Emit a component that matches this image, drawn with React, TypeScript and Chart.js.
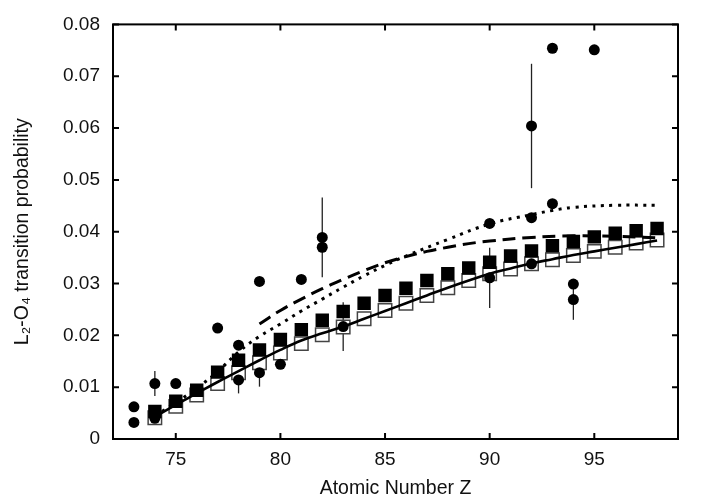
import React, { useEffect, useRef } from "react";
import { Chart, registerables } from "chart.js";

Chart.register(...registerables);

// ---------- data ----------
const xTickLabels = ["75", "80", "85", "90", "95"];
const yTickLabels = ["0", "0.01", "0.02", "0.03", "0.04", "0.05", "0.06", "0.07", "0.08"];

// experimental points (filled circles) with error bars
const expZ = [73, 73, 74, 74, 75, 77, 78, 78, 79, 79, 80, 81, 82, 82, 83, 90, 90, 92, 92, 92, 93, 93, 94, 94, 95];
const expP = [0.0062, 0.0032, 0.0107, 0.004, 0.0107, 0.0214, 0.0181, 0.0114, 0.0304, 0.0128, 0.0144, 0.0308, 0.0389, 0.037, 0.0217, 0.0416, 0.0311, 0.0604, 0.0427, 0.0338, 0.0754, 0.0454, 0.0299, 0.0269, 0.0751];
const expErr = [0, 0, 0.0024, 0, 0, 0, 0, 0.0026, 0, 0.0027, 0, 0, 0.0077, 0, 0.0047, 0, 0.0058, 0.012, 0, 0, 0, 0, 0, 0.0039, 0];

// theoretical (filled squares / open squares)
const theoryZ = [74, 75, 76, 77, 78, 79, 80, 81, 82, 83, 84, 85, 86, 87, 88, 89, 90, 91, 92, 93, 94, 95, 96, 97, 98];
const filledSq = [0.0053, 0.0073, 0.0094, 0.0129, 0.0152, 0.0172, 0.0192, 0.0211, 0.0229, 0.0246, 0.0262, 0.0277, 0.0291, 0.0306, 0.0319, 0.033, 0.0341, 0.0353, 0.0363, 0.0373, 0.0381, 0.039, 0.0397, 0.0402, 0.0406];
const openSq = [0.0041, 0.0063, 0.0085, 0.0107, 0.0128, 0.0147, 0.0166, 0.0184, 0.0201, 0.0216, 0.0232, 0.0248, 0.0262, 0.0277, 0.0292, 0.0306, 0.0319, 0.0328, 0.0338, 0.0346, 0.0354, 0.0362, 0.037, 0.0378, 0.0384];

// solid fitted curve
const solidZ = [74, 75, 76, 77, 78, 79, 80, 81, 82, 83, 84, 85, 86, 87, 88, 89, 90, 91, 92, 93, 94, 95, 96, 97, 98];
const solidP = [0.0043, 0.0066, 0.0088, 0.011, 0.0131, 0.0152, 0.0172, 0.019, 0.0204, 0.0217, 0.0232, 0.0247, 0.0262, 0.0277, 0.0292, 0.0306, 0.0319, 0.0329, 0.0339, 0.0347, 0.0355, 0.0362, 0.0369, 0.0376, 0.0383];

// dashed curve
const dashZ = [79, 80, 81, 82, 83, 84, 85, 86, 87, 88, 89, 90, 92, 94, 96, 98];
const dashP = [0.0222, 0.0248, 0.027, 0.029, 0.0308, 0.0325, 0.034, 0.0352, 0.0362, 0.037, 0.0377, 0.0382, 0.0389, 0.0392, 0.0391, 0.0388];

// dotted curve
const dotZ = [74, 75, 76, 77, 78, 79, 80, 81, 82, 83, 84, 85, 86, 88, 90, 92, 93, 94, 96, 98];
const dotP = [0.0045, 0.007, 0.0098, 0.013, 0.0168, 0.0198, 0.0222, 0.0247, 0.027, 0.0293, 0.0315, 0.0335, 0.0353, 0.0385, 0.0415, 0.0433, 0.0441, 0.0447, 0.0451, 0.0451];

const pts = (xs: number[], ys: number[]) => xs.map((x, i) => ({ x, y: ys[i] }));

const FONT = "'Liberation Sans', Arial, Helvetica, sans-serif";

const framePlugin = {
  id: "frameTicks",
  beforeDatasetsDraw(chart: any) {
    const { ctx, scales } = chart;
    const x = scales.x;
    const y = scales.y;
    ctx.save();
    ctx.strokeStyle = "#222";
    ctx.lineWidth = 1.3;
    expZ.forEach((z, i) => {
      const e = expErr[i];
      if (!e) return;
      const px = x.getPixelForValue(z);
      ctx.beginPath();
      ctx.moveTo(px, y.getPixelForValue(expP[i] - e));
      ctx.lineTo(px, y.getPixelForValue(expP[i] + e));
      ctx.stroke();
    });
    ctx.restore();
  },
  afterDraw(chart: any) {
    const { ctx, chartArea, scales } = chart;
    const { left, right, top, bottom } = chartArea;
    const x = scales.x;
    const y = scales.y;
    ctx.save();
    ctx.strokeStyle = "#000";
    ctx.lineWidth = 2;
    ctx.strokeRect(left, top, right - left, bottom - top);
    ctx.lineWidth = 2;
    const len = 6;
    x.ticks.forEach((t: any) => {
      const px = x.getPixelForValue(t.value);
      ctx.beginPath();
      ctx.moveTo(px, bottom);
      ctx.lineTo(px, bottom - len);
      ctx.moveTo(px, top);
      ctx.lineTo(px, top + len);
      ctx.stroke();
    });
    y.ticks.forEach((t: any) => {
      const py = y.getPixelForValue(t.value);
      ctx.beginPath();
      ctx.moveTo(left, py);
      ctx.lineTo(left + len, py);
      ctx.moveTo(right, py);
      ctx.lineTo(right - len, py);
      ctx.stroke();
    });
    ctx.restore();
  },
};

export default function App() {
  const ref = useRef<HTMLCanvasElement | null>(null);
  useEffect(() => {
    document.body.style.margin = "0";
    if (!ref.current) return;
    const chart = new Chart(ref.current, {
      type: "scatter",
      data: {
        datasets: [
          {
            label: "experiment",
            data: pts(expZ, expP),
            pointStyle: "circle",
            pointRadius: 5.5,
            backgroundColor: "#000",
            borderColor: "#000",
            borderWidth: 0,
            order: 0,
          } as any,
          {
            label: "solid",
            data: pts(solidZ, solidP),
            showLine: true,
            pointRadius: 0,
            borderColor: "#000",
            borderWidth: 2.6,
            tension: 0.4,
            order: 1,
          },
          {
            label: "dashed",
            data: pts(dashZ, dashP),
            showLine: true,
            pointRadius: 0,
            borderColor: "#000",
            borderWidth: 3,
            borderDash: [13, 7],
            tension: 0.4,
            order: 2,
          },
          {
            label: "dotted",
            data: pts(dotZ, dotP),
            showLine: true,
            pointRadius: 0,
            borderColor: "#000",
            borderWidth: 3,
            borderDash: [3, 5.5],
            tension: 0.4,
            order: 3,
          },
          {
            label: "filled",
            data: pts(theoryZ, filledSq),
            pointStyle: "rect",
            pointRadius: 9.5,
            backgroundColor: "#000",
            borderColor: "#000",
            borderWidth: 0,
            order: 4,
          },
          {
            label: "open",
            data: pts(theoryZ, openSq),
            pointStyle: "rect",
            pointRadius: 9.5,
            backgroundColor: "#fff",
            borderColor: "#444",
            borderWidth: 1.5,
            order: 5,
          },
        ],
      },
      options: {
        responsive: false,
        animation: false,
        devicePixelRatio: 1,
        layout: { padding: { left: 0, right: 34, top: 23, bottom: 0 } },
        plugins: { legend: { display: false }, tooltip: { enabled: false } },
        scales: {
          x: {
            type: "linear",
            min: 72,
            max: 99,
            grid: { display: false, drawTicks: false, tickLength: 0 },
            border: { display: false },
            ticks: {
              stepSize: 5,
              includeBounds: false,
              padding: 9,
              color: "#111",
              font: { family: FONT, size: 19 },
              maxRotation: 0,
              callback: (v: any, i: number) => xTickLabels[i] ?? String(v),
            },
            title: {
              display: true,
              text: "Atomic Number Z",
              color: "#111",
              font: { family: FONT, size: 19.5, lineHeight: 1 },
              padding: { top: 0, bottom: 1 },
            },
            afterFit: (s: any) => {
              s.height = 60;
            },
          },
          y: {
            type: "linear",
            min: 0,
            max: 0.08,
            grid: { display: false, drawTicks: false, tickLength: 0 },
            border: { display: false },
            ticks: {
              stepSize: 0.01,
              padding: 13,
              color: "#111",
              font: { family: FONT, size: 19 },
              callback: (v: any, i: number) => yTickLabels[i] ?? String(v),
            },
            title: {
              display: true,
              text: "L\u2082-O\u2084 transition probability",
              color: "#111",
              font: { family: FONT, size: 19.5 },
              padding: { top: 11, bottom: 0 },
            },
            afterFit: (s: any) => {
              s.width = 113;
            },
          },
        },
      },
      plugins: [framePlugin],
    });
    return () => chart.destroy();
  }, []);
  return (
    <div style={{ position: "absolute", left: 0, top: 0, width: 712, height: 499 }}>
      <canvas ref={ref} width={712} height={499} />
    </div>
  );
}
